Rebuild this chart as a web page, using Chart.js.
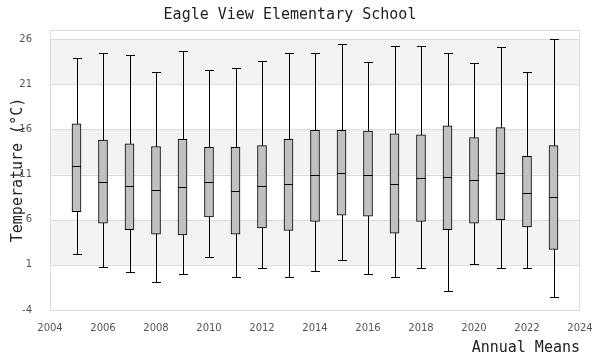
<!DOCTYPE html>
<html>
<head>
<meta charset="utf-8">
<script src="https://cdn.jsdelivr.net/npm/chart.js@4.4.0/dist/chart.umd.min.js"></script>
<style>
  html, body { margin: 0; padding: 0; background: #fff; }
  #wrap { width: 600px; height: 360px; }
</style>
</head>
<body>
<div id="wrap"><canvas id="mainChart"></canvas></div>
<script>
'use strict';

const years   = [2005, 2006, 2007, 2008, 2009, 2010, 2011, 2012, 2013, 2014, 2015, 2016, 2017, 2018, 2019, 2020, 2021, 2022, 2023];
const whiskHi = [23.9, 24.4, 24.2, 22.4, 24.7, 22.6, 22.8, 23.6, 24.5, 24.5, 25.4, 23.5, 25.2, 25.2, 24.4, 23.4, 25.1, 22.4, 26.0];
const q3      = [16.6, 14.8, 14.4, 14.1, 14.9, 14.0, 14.0, 14.2, 14.9, 15.9, 15.9, 15.8, 15.5, 15.4, 16.4, 15.1, 16.2, 13.0, 14.2];
const median  = [11.9, 10.2,  9.7,  9.3,  9.6, 10.2,  9.2,  9.7,  9.9, 10.9, 11.2, 11.0,  9.9, 10.6, 10.7, 10.4, 11.2,  9.0,  8.5];
const q1      = [ 6.9,  5.6,  4.9,  4.4,  4.3,  6.3,  4.4,  5.1,  4.8,  5.8,  6.5,  6.4,  4.5,  5.8,  4.9,  5.6,  6.0,  5.2,  2.7];
const whiskLo = [ 2.2,  0.8,  0.2, -0.9,  0.0,  1.9, -0.4,  0.6, -0.3,  0.3,  1.5,  0.0, -0.4,  0.7, -1.9,  1.1,  0.7,  0.6, -2.6];
const yTicks  = [-4, 1, 6, 11, 16, 21, 26];
const shaded  = [[1, 6], [11, 16], [21, 26]];

const mono = 'DejaVu Sans Mono, monospace';
const sans = 'DejaVu Sans, Verdana, sans-serif';

const boxDecor = {
    id: 'boxDecor',
    beforeDatasetsDraw(chart) {
        const { ctx, chartArea: { left, right }, scales: { x, y } } = chart;
        ctx.save();
        ctx.fillStyle = '#f3f3f3';
        shaded.forEach(([a, b]) => {
            const top = y.getPixelForValue(b), bot = y.getPixelForValue(a);
            ctx.fillRect(left, top, right - left, bot - top);
        });
        ctx.strokeStyle = '#dcdcdc';
        ctx.lineWidth = 1;
        yTicks.forEach(v => {
            const py = Math.round(y.getPixelForValue(v)) + 0.5;
            ctx.beginPath(); ctx.moveTo(left, py); ctx.lineTo(right, py); ctx.stroke();
        });
        // whiskers
        ctx.strokeStyle = '#000';
        years.forEach((yr, i) => {
            const px = Math.round(x.getPixelForValue(yr)) + 0.5;
            const hi = Math.round(y.getPixelForValue(whiskHi[i])) + 0.5;
            const lo = Math.round(y.getPixelForValue(whiskLo[i])) + 0.5;
            ctx.beginPath();
            ctx.moveTo(px, hi); ctx.lineTo(px, lo);
            ctx.moveTo(px - 4.5, hi); ctx.lineTo(px + 4.5, hi);
            ctx.moveTo(px - 4.5, lo); ctx.lineTo(px + 4.5, lo);
            ctx.stroke();
        });
        ctx.restore();
    },
    afterDatasetsDraw(chart) {
        const { ctx, scales: { x, y } } = chart;
        ctx.save();
        ctx.strokeStyle = '#000';
        ctx.lineWidth = 1;
        years.forEach((yr, i) => {
            const px = x.getPixelForValue(yr);
            const py = Math.round(y.getPixelForValue(median[i])) + 0.5;
            ctx.beginPath(); ctx.moveTo(px - 4.5, py); ctx.lineTo(px + 4.5, py); ctx.stroke();
        });
        ctx.restore();
    },
};

new Chart(document.getElementById('mainChart').getContext('2d'), {
    type: 'bar',
    data: {
        datasets: [{
            data: years.map((yr, i) => ({ x: yr, y: [q1[i], q3[i]] })),
            backgroundColor: '#c0c0c0',
            borderColor: '#000',
            borderWidth: 1,
            borderSkipped: false,
            barThickness: 9,
        }],
    },
    options: {
        responsive: true,
        maintainAspectRatio: false,
        animation: false,
        layout: { padding: { left: 0, right: 20, top: 6, bottom: 0 } },
        plugins: {
            legend: { display: false },
            tooltip: { enabled: false },
            title: {
                display: true,
                text: 'Eagle View Elementary School',
                color: '#222',
                font: { family: mono, size: 15, weight: 'normal' },
                padding: { top: 0, bottom: 6 },
            },
        },
        scales: {
            x: {
                type: 'linear',
                min: 2004, max: 2024,
                offset: false,
                grid: { display: false, offset: false },
                border: { display: false },
                afterFit(axis) { axis.height = 50; },
                ticks: { stepSize: 2, color: '#555', font: { family: sans, size: 10 }, padding: 4,
                         callback: v => String(v), maxRotation: 0 },
                title: { display: true, text: 'Annual Means', align: 'end', color: '#222',
                         font: { family: mono, size: 15 }, padding: { top: 0, bottom: 3 } },
            },
            y: {
                min: -4, max: 27,
                grid: { display: false },
                border: { display: false },
                afterBuildTicks(axis) { axis.ticks = yTicks.map(v => ({ value: v })); },
                afterFit(axis) { axis.width = 50; },
                ticks: { color: '#555', font: { family: sans, size: 10 }, padding: 10 },
                title: { display: true, text: 'Temperature (°C)', color: '#222',
                         font: { family: mono, size: 15 }, padding: { top: 9, bottom: 0 } },
            },
        },
    },
    plugins: [boxDecor, {
        id: 'frame',
        afterDatasetsDraw(chart) {
            const { ctx, chartArea: { left, right, top, bottom } } = chart;
            ctx.save();
            ctx.strokeStyle = '#dcdcdc';
            ctx.lineWidth = 1;
            ctx.strokeRect(Math.round(left) + 0.5, Math.round(top) + 0.5,
                           Math.round(right - left) - 1, Math.round(bottom - top));
            ctx.restore();
        },
    }],
});
</script>
</body>
</html>
